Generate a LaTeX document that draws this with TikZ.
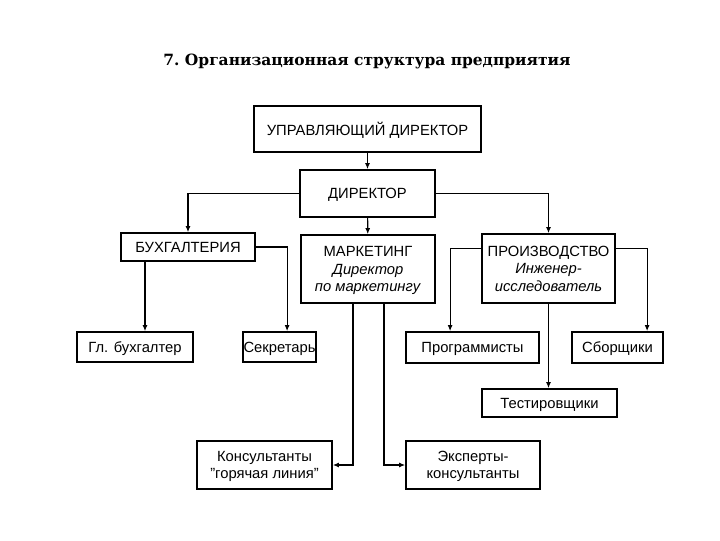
\documentclass[tikz,border=0pt]{standalone}
\usepackage{fontspec}
\setmainfont{Liberation Sans}
\newfontfamily\titlefont{DejaVu Serif}
\usetikzlibrary{arrows.meta,positioning,calc}

\begin{document}
\begin{tikzpicture}[x=0.025cm, y=-0.025cm, every node/.style={font=\fontsize{10.5}{12.5}\selectfont}]
\tikzset{box/.style={draw, line width=1.1pt, align=center, inner sep=1pt, text depth=0pt, minimum height=0.75cm}}
\tikzset{arrow/.style={-{Latex[length=1.5mm, width=1.2mm]}, line width=0.8pt}}
\useasboundingbox (0,0) rectangle (720,540);
\node[anchor=base] (title) at (367,65) {\titlefont\bfseries\fontsize{11}{13}\selectfont 7.\ Организационная структура предприятия};
\node[box, minimum width=5.675cm, minimum height=1.15cm] (ud) at (367.5,129) {УПРАВЛЯЮЩИЙ ДИРЕКТОР};
\node[box, minimum width=3.375cm, minimum height=1.175cm] (dir) at (367.5,193.5) {ДИРЕКТОР};
\node[box, minimum width=3.35cm, minimum height=0.7cm] (buh) at (188,247) {БУХГАЛТЕРИЯ};
\node[box, minimum width=3.35cm, minimum height=1.7cm] (mark) at (368,269) {МАРКЕТИНГ\\\textit{Директор}\\\textit{по маркетингу}};
\node[box, minimum width=3.325cm, minimum height=1.725cm] (proizv) at (548.5,268.5) {ПРОИЗВОДСТВО\\\textit{Инженер-}\\\textit{исследователь}};
\node[box, minimum width=2.9cm] (glbuh) at (135,347) {Гл. бухгалтер};
\node[box, minimum width=1.775cm, inner xsep=0.3pt] (sekr) at (279.5,347) {Секретарь};
\node[box, minimum width=3.325cm, minimum height=0.775cm] (prog) at (472.5,347.5) {Программисты};
\node[box, minimum width=2.275cm, minimum height=0.775cm] (sbor) at (617.5,347.5) {Сборщики};
\node[box, minimum width=3.375cm, minimum height=0.7cm] (test) at (549.5,403) {Тестировщики};
\node[box, minimum width=3.375cm, minimum height=1.2cm] (kons) at (264.5,465) {Консультанты\\"горячая линия"};
\node[box, minimum width=3.35cm, minimum height=1.2cm] (eksp) at (473,465) {Эксперты-\\консультанты};
% connectors
\draw[arrow] (ud) -- (dir);
\draw[arrow] (dir) -- (mark);
\draw[arrow] (dir.west) -| (buh.north);
\draw[arrow] (dir.east) -| (proizv.north);
\draw[arrow] ([xshift=-1.075cm]buh.south) -- ([xshift=-1.075cm]buh.south |- glbuh.north);
\draw[arrow] (buh.east) -| ([xshift=0.19cm]sekr.north);
\draw[arrow] ([yshift=0.49cm]proizv.west) -| ([xshift=-0.56cm]prog.north);
\draw[arrow] ([yshift=0.49cm]proizv.east) -| ([xshift=0.74cm]sbor.north);
\draw[arrow] (proizv.south) -- (proizv.south |- test.north);
\draw[arrow] ([xshift=-0.375cm]mark.south) |- (kons.east);
\draw[arrow] ([xshift=0.4cm]mark.south) |- (eksp.west);
\end{tikzpicture}
\end{document}
